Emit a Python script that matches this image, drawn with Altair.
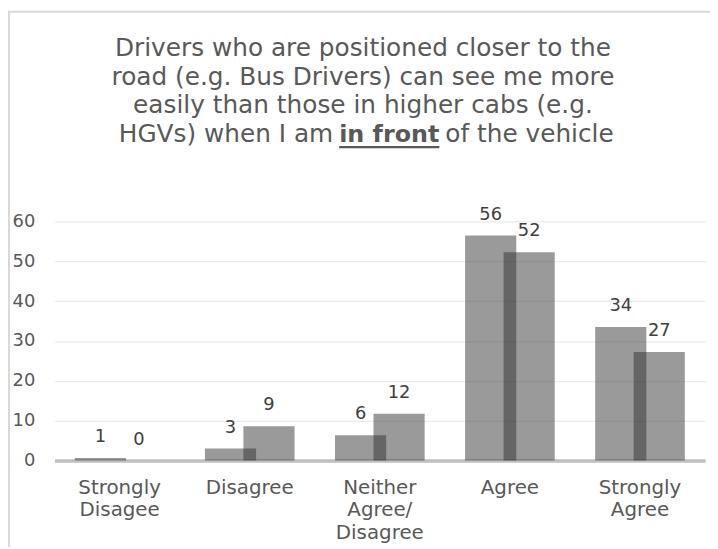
import altair as alt
import pandas as pd

# ---- data ----
CATEGORIES = ["Strongly|Disagee", "Disagree", "Neither|Agree/|Disagree", "Agree", "Strongly|Agree"]
SERIES_A = [0.6, 3.0, 6.3, 56.5, 33.5]
SERIES_B = [0.0, 8.6, 11.7, 52.3, 27.2]
LABELS_A = ["1", "3", "6", "56", "34"]
LABELS_B = ["0", "9", "12", "52", "27"]
Y_TICKS = [0, 10, 20, 30, 40, 50, 60]
TITLE_LINES = [
    "Drivers who are positioned closer to the",
    "road (e.g. Bus Drivers) can see me more",
    "easily than those in higher cabs (e.g.",
]
TITLE_LAST = ["HGVs) when I am", "in front", "of the vehicle"]

# ---- styling ----
FONT = "DejaVu Sans"
W, H = 656, 241
BAR_W = 51.6
OFF = 19.4
BAR_COLOR = "#2b2b2b"
BAR_OPACITY = 0.48
TXT = "#595959"

df_a = pd.DataFrame({"cat": CATEGORIES, "val": SERIES_A, "lab": LABELS_A})
df_b = pd.DataFrame({"cat": CATEGORIES, "val": SERIES_B, "lab": LABELS_B})
one = pd.DataFrame({"k": [0]})

x_enc = alt.X(
    "cat:N",
    sort=CATEGORIES,
    scale=alt.Scale(domain=CATEGORIES, paddingInner=0, paddingOuter=0),
    axis=alt.Axis(
        title=None,
        labelExpr="split(datum.label, '|')",
        labelFont=FONT,
        labelFontSize=20,
        labelColor=TXT,
        labelLineHeight=23,
        labelAngle=0,
        labelBaseline="top",
        labelOverlap=False,
        ticks=False,
        tickSize=0,
        labelPadding=17,
        domainColor="#bfbfbf",
        domainWidth=3.5,
        grid=False,
    ),
)
y_enc = alt.Y(
    "val:Q",
    scale=alt.Scale(domain=[0, 60], nice=False, zero=True),
    axis=alt.Axis(
        title=None,
        values=Y_TICKS,
        grid=True,
        gridColor="#ebebeb",
        gridWidth=1.3,
        domain=False,
        ticks=False,
        tickSize=0,
        labelPadding=20,
        labelFont=FONT,
        labelFontSize=18,
        labelColor=TXT,
    ),
)

bar_a = alt.Chart(df_a).mark_bar(size=BAR_W, xOffset=-OFF, color=BAR_COLOR, opacity=BAR_OPACITY).encode(x=x_enc, y=y_enc)
bar_b = alt.Chart(df_b).mark_bar(size=BAR_W, xOffset=OFF, color=BAR_COLOR, opacity=BAR_OPACITY).encode(
    x=alt.X("cat:N", sort=CATEGORIES), y="val:Q"
)

def value_text(df, off):
    return alt.Chart(df).mark_text(
        xOffset=off, dy=-16, baseline="alphabetic", align="center",
        font=FONT, fontSize=18, color="#404040"
    ).encode(x=alt.X("cat:N", sort=CATEGORIES), y="val:Q", text="lab:N")

txt_a = value_text(df_a, -OFF)
txt_b = value_text(df_b, OFF)

# ---- title (text marks so that "in front" can be bold + underlined) ----
title_layers = []
for i, line in enumerate(TITLE_LINES):
    title_layers.append(
        alt.Chart(one).mark_text(
            align="center", baseline="alphabetic", font=FONT, fontSize=25, color=TXT
        ).encode(x=alt.value(311), y=alt.value(-167 + 29 * i), text=alt.value(line))
    )
title_layers.append(
    alt.Chart(one).mark_text(align="right", baseline="alphabetic", font=FONT, fontSize=25, color=TXT)
    .encode(x=alt.value(281), y=alt.value(-80), text=alt.value(TITLE_LAST[0]))
)
title_layers.append(
    alt.Chart(one).mark_text(align="center", baseline="alphabetic", font=FONT, fontSize=24,
                             fontWeight="bold", color=TXT)
    .encode(x=alt.value(337.5), y=alt.value(-80), text=alt.value(TITLE_LAST[1]))
)
title_layers.append(
    alt.Chart(one).mark_text(align="left", baseline="alphabetic", font=FONT, fontSize=25, color=TXT)
    .encode(x=alt.value(394), y=alt.value(-80), text=alt.value(TITLE_LAST[2]))
)
underline = alt.Chart(one).mark_rule(color=TXT, strokeWidth=2.2).encode(
    x=alt.value(287), x2=alt.value(388), y=alt.value(-75)
)

# ---- chart border (left and top edges visible in the reference) ----
border_left = alt.Chart(one).mark_rule(color="#d9d9d9", strokeWidth=2).encode(
    x=alt.value(-46), y=alt.value(-212.5), y2=alt.value(400)
)
border_top = alt.Chart(one).mark_rule(color="#d9d9d9", strokeWidth=2).encode(
    y=alt.value(-211.5), x=alt.value(-47), x2=alt.value(700)
)

chart = alt.layer(
    bar_a, bar_b, txt_a, txt_b, *title_layers, underline, border_left, border_top
).properties(
    width=W,
    height=H,
    autosize=alt.AutoSizeParams(type="none"),
    padding={"left": 47, "top": 213, "right": 5, "bottom": 85},
    background="white",
).configure_view(strokeWidth=0)

chart.save("out.html", embed_options={"renderer": "svg", "actions": False})
